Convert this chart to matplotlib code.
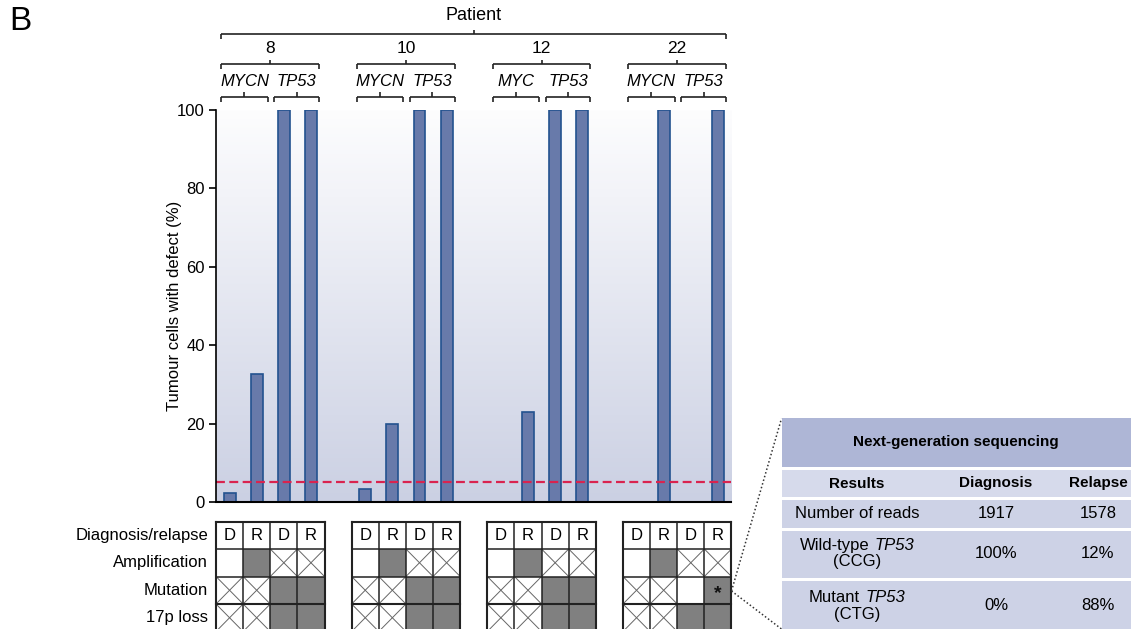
import matplotlib
matplotlib.use("Agg")
import matplotlib.pyplot as plt
import numpy as np
from matplotlib.colors import LinearSegmentedColormap
from matplotlib.patches import Rectangle
from matplotlib.offsetbox import TextArea, HPacker, AnnotationBbox

plt.rcParams['font.family'] = ['Liberation Sans', 'DejaVu Sans']

# ---------------- data ----------------
patients = ["8", "10", "12", "22"]
genes = [["MYCN", "TP53"], ["MYCN", "TP53"], ["MYC", "TP53"], ["MYCN", "TP53"]]
timepoints = ["D", "R", "D", "R"]
defect_pct = [[2.2, 32.6, 100, 100],
              [3.4, 19.9, 100, 100],
              [0, 22.9, 100, 100],
              [0, 100, 0, 100]]
threshold_pct = 5
yticks = [0, 20, 40, 60, 80, 100]
row_labels = ["Diagnosis/relapse", "Amplification", "Mutation", "17p loss"]
amplification = [["no", "yes", "na", "na"],
                 ["no", "yes", "na", "na"],
                 ["no", "yes", "na", "na"],
                 ["no", "yes", "na", "na"]]
mutation = [["na", "na", "yes", "yes"],
            ["na", "na", "yes", "yes"],
            ["na", "na", "yes", "yes"],
            ["na", "na", "no", "yes*"]]
loss_17p = [["na", "na", "yes", "yes"],
            ["na", "na", "yes", "yes"],
            ["na", "na", "yes", "yes"],
            ["na", "na", "yes", "yes"]]

ngs_title = "Next-generation sequencing"
ngs_header = ["Results", "Diagnosis", "Relapse"]
# each result: list of lines; each line: (plain part, italic part)
ngs_results = [[("Number of reads", "")],
               [("Wild-type", "TP53"), ("(CCG)", "")],
               [("Mutant", "TP53"), ("(CTG)", "")]]
ngs_diagnosis = ["1917", "100%", "0%"]
ngs_relapse = ["1578", "12%", "88%"]

# ---------------- layout ----------------
W, H = 1133, 629
fig = plt.figure(figsize=(W / 100, H / 100), dpi=100)
AX_L, AX_R = 216, 731.5
group_start = [0, 5, 10, 15]
XLIM = (-0.5, 18.5)

BAR_FILL = '#687aaa'
BAR_EDGE = '#23528f'
GRAY = '#808080'

# ---------------- bar chart ----------------
ax = fig.add_axes([AX_L / W, (H - 502) / H, (AX_R - AX_L) / W, (502 - 110) / H])
grad_cmap = LinearSegmentedColormap.from_list('bg', ['#fdfdfe', '#cbd0e3'])
grad = np.linspace(0, 1, 256).reshape(-1, 1)
ax.imshow(grad, extent=(XLIM[0], XLIM[1], 0, 100), aspect='auto',
          cmap=grad_cmap, origin='upper', zorder=0)

xs, vals = [], []
for p, b in enumerate(group_start):
    for c in range(4):
        xs.append(b + c)
        vals.append(defect_pct[p][c])
ax.bar(xs, vals, width=0.44, color=BAR_FILL, edgecolor=BAR_EDGE,
       linewidth=1.2, zorder=2)
ax.axhline(threshold_pct, color='#d9234f', linestyle=(0, (4, 2)),
           linewidth=1.6, zorder=4, clip_on=False)

ax.set_xlim(*XLIM)
ax.set_ylim(0, 100)
ax.set_yticks(yticks)
ax.set_xticks([])
for s in ['top', 'right']:
    ax.spines[s].set_visible(False)
ax.spines['left'].set_linewidth(1.2)
ax.spines['bottom'].set_linewidth(1.5)
ax.spines['left'].set_zorder(5)
ax.spines['bottom'].set_zorder(5)
ax.tick_params(axis='y', direction='out', length=5, width=1.2, labelsize=12, pad=3)
ax.set_ylabel("Tumour cells with defect (%)", fontsize=12)
ax.yaxis.set_label_coords(-(216 - 182) / (AX_R - AX_L), 0.5)

# ---------------- header brackets ----------------
hax = fig.add_axes([AX_L / W, (H - 105) / H, (AX_R - AX_L) / W, 105 / H])
hax.set_xlim(*XLIM)
hax.set_ylim(105, 0)
hax.axis('off')

def bracket(a, x0, x1, y, down, up):
    kw = dict(color='#222222', lw=1.2, solid_capstyle='butt', clip_on=False)
    a.plot([x0, x1], [y, y], **kw)
    a.plot([x0, x0], [y, y + down], **kw)
    a.plot([x1, x1], [y, y + down], **kw)
    xm = (x0 + x1) / 2
    a.plot([xm, xm], [y, y - up], **kw)
    return xm

xm = bracket(hax, -0.3, 18.3, 33.5, 5, 4)
hax.text(xm, 16, "Patient", fontsize=13, ha='center', va='center')
for p, b in enumerate(group_start):
    xm = bracket(hax, b - 0.3, b + 3.3, 63.5, 5, 4)
    hax.text(xm, 48.5, patients[p], fontsize=12.5, ha='center', va='center')
    m1 = bracket(hax, b - 0.3, b + 1.4, 97, 5, 5)
    m2 = bracket(hax, b + 1.65, b + 3.3, 97, 5, 5)
    hax.text(m1, 82, genes[p][0], fontsize=12, style='italic', ha='center', va='center')
    hax.text(m2, 82, genes[p][1], fontsize=12, style='italic', ha='center', va='center')

# ---------------- status grid ----------------
gax = fig.add_axes([AX_L / W, (H - 631.5) / H, (AX_R - AX_L) / W, 110 / H])
gax.set_xlim(*XLIM)
gax.set_ylim(4, 0)
gax.axis('off')

for r, lab in enumerate(row_labels):
    gax.text(-0.5 - 8 / 27.13, r + 0.5, lab, fontsize=12, ha='right', va='center')

status_rows = [amplification, mutation, loss_17p]
for p, b in enumerate(group_start):
    for c in range(4):
        x0 = b + c - 0.5
        gax.text(b + c, 0.5, timepoints[c], fontsize=12, ha='center', va='center')
        for r, rows in enumerate(status_rows, start=1):
            st = rows[p][c]
            if st.startswith('yes'):
                gax.add_patch(Rectangle((x0, r), 1, 1, facecolor=GRAY, edgecolor='none', zorder=1))
                if st.endswith('*'):
                    gax.text(b + c, r + 0.62, '*', fontsize=14, fontweight='bold',
                             ha='center', va='center', color='#111111', zorder=3)
            elif st == 'na':
                gax.plot([x0, x0 + 1], [r, r + 1], color='#666666', lw=0.7, zorder=2, clip_on=False)
                gax.plot([x0, x0 + 1], [r + 1, r], color='#666666', lw=0.7, zorder=2, clip_on=False)
    for k in range(5):
        lw = 1.5 if k in (0, 4) else 1.1
        gax.plot([b - 0.5 + k] * 2, [0, 4], color='#222222', lw=lw, zorder=4, clip_on=False)
    for k in range(5):
        lw = 1.5 if k in (0, 3) else 1.1
        gax.plot([b - 0.5, b + 3.5], [k, k], color='#222222', lw=lw, zorder=4, clip_on=False)

# ---------------- overlay: panel letter, table, zoom lines ----------------
oax = fig.add_axes([0, 0, 1, 1])
oax.set_xlim(0, W)
oax.set_ylim(H, 0)
oax.axis('off')

oax.text(9, 22, "B", fontsize=24, ha='left', va='center')

TX0, TX1 = 781.5, 1131
oax.add_patch(Rectangle((TX0, 418.3), TX1 - TX0, 467.3 - 418.3, facecolor='#aeb6d6', edgecolor='none'))
oax.add_patch(Rectangle((TX0, 469.5), TX1 - TX0, 497 - 469.5, facecolor='#d6daeb', edgecolor='none'))
row_spans = [(499.5, 528.3), (530.7, 578.3), (580.7, 640)]
for y0, y1 in row_spans:
    oax.add_patch(Rectangle((TX0, y0), TX1 - TX0, y1 - y0, facecolor='#cdd2e6', edgecolor='none'))

col_x = [857, 996, 1098]
oax.text((TX0 + TX1) / 2, 442, ngs_title, fontsize=11, fontweight='bold', ha='center', va='center')
for x, t in zip(col_x, ngs_header):
    oax.text(x, 483.5, t, fontsize=11, fontweight='bold', ha='center', va='center')

row_text_y = [[514], [545.5, 561.5], [597, 614.5]]
row_val_y = [514, 553.5, 605]
for i in range(3):
    for (plain, ital), yy in zip(ngs_results[i], row_text_y[i]):
        if ital:
            pack = HPacker(children=[TextArea(plain, textprops=dict(fontsize=12)),
                                     TextArea(ital, textprops=dict(fontsize=12, style='italic'))],
                           align='baseline', pad=0, sep=4)
            ab = AnnotationBbox(pack, (col_x[0], yy), xycoords='data', frameon=False,
                                box_alignment=(0.5, 0.5), pad=0)
            oax.add_artist(ab)
        else:
            oax.text(col_x[0], yy, plain, fontsize=12, ha='center', va='center')
    oax.text(col_x[1], row_val_y[i], ngs_diagnosis[i], fontsize=12, ha='center', va='center')
    oax.text(col_x[2], row_val_y[i], ngs_relapse[i], fontsize=12, ha='center', va='center')

oax.plot([731.5, 781.5], [591, 418.5], linestyle=(0, (1, 1.5)), color='#333333', lw=1.1)
oax.plot([731.5, 781.5], [591, 629], linestyle=(0, (1, 1.5)), color='#333333', lw=1.1)

fig.savefig("out.png", dpi=100)
